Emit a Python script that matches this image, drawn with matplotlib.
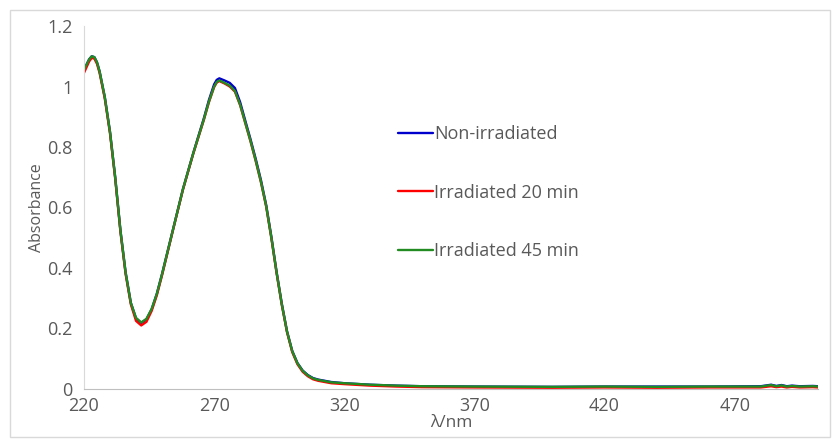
import numpy as np
import matplotlib.pyplot as plt
from matplotlib.patches import Rectangle

plt.rcParams['font.family'] = ['Open Sans', 'DejaVu Sans']

# wavelengths (nm) and absorbance
wl = [220, 222, 223, 224, 225, 226, 228, 230, 232, 234, 236, 238, 240, 242, 244, 246,
      248, 250, 252, 254, 256, 258, 260, 262, 264, 266, 268, 270, 271, 272, 274,
      276, 278, 280, 282, 284, 286, 288, 290, 292, 294, 296, 298, 300, 302, 304,
      306, 308, 310, 315, 320, 330, 340, 350, 370, 400, 420, 440, 460, 480, 484,
      486, 488, 490, 492, 495, 500, 502]

irr45 = [1.055, 1.09, 1.10, 1.097, 1.08, 1.05, 0.965, 0.85, 0.70, 0.525, 0.385, 0.285, 0.235,
         0.22, 0.232, 0.265, 0.315, 0.38, 0.45, 0.52, 0.59, 0.66, 0.72, 0.78, 0.835,
         0.89, 0.95, 1.0, 1.015, 1.02, 1.012, 1.003, 0.985, 0.94, 0.88, 0.82, 0.755,
         0.685, 0.605, 0.50, 0.385, 0.28, 0.19, 0.125, 0.085, 0.06, 0.045, 0.035, 0.03,
         0.022, 0.019, 0.014, 0.011, 0.009, 0.008, 0.007, 0.008, 0.007, 0.008, 0.008,
         0.013, 0.009, 0.012, 0.008, 0.010, 0.008, 0.009, 0.008]

non_irr = [1.055, 1.09, 1.10, 1.097, 1.08, 1.05, 0.965, 0.85, 0.70, 0.525, 0.385, 0.285, 0.233,
           0.218, 0.23, 0.263, 0.315, 0.38, 0.45, 0.52, 0.59, 0.66, 0.72, 0.78, 0.837,
           0.893, 0.955, 1.007, 1.022, 1.027, 1.02, 1.012, 0.995, 0.948, 0.886, 0.825,
           0.76, 0.69, 0.608, 0.503, 0.387, 0.282, 0.191, 0.126, 0.086, 0.061, 0.046,
           0.036, 0.031, 0.023, 0.019, 0.014, 0.011, 0.009, 0.008, 0.007, 0.008, 0.008,
           0.008, 0.009, 0.014, 0.010, 0.013, 0.009, 0.011, 0.009, 0.010, 0.009]

irr20 = [1.045, 1.083, 1.095, 1.092, 1.075, 1.045, 0.96, 0.845, 0.695, 0.52, 0.38, 0.28, 0.225,
         0.21, 0.222, 0.258, 0.31, 0.376, 0.447, 0.518, 0.588, 0.658, 0.718, 0.778, 0.833,
         0.888, 0.948, 0.998, 1.013, 1.018, 1.01, 1.0, 0.983, 0.938, 0.878, 0.818, 0.753,
         0.683, 0.603, 0.498, 0.383, 0.278, 0.188, 0.122, 0.082, 0.057, 0.042, 0.032,
         0.027, 0.019, 0.016, 0.011, 0.008, 0.006, 0.005, 0.004, 0.005, 0.004, 0.005,
         0.005, 0.009, 0.006, 0.008, 0.005, 0.007, 0.005, 0.006, 0.005]

fig = plt.figure(figsize=(8.33, 4.41), dpi=100)
ax = fig.add_axes([0.1008, 0.118, 0.8812, 0.823])

# outer chart border
fig.patches.append(Rectangle((10 / 833, 4 / 441), 820 / 833, 427 / 441, transform=fig.transFigure,
                             fill=False, edgecolor='#d9d9d9', linewidth=1))

kw = dict(linewidth=1.7, solid_joinstyle='round', solid_capstyle='round')
ax.plot(wl, non_irr, color='#0000cc', label='Non-irradiated', **kw)
ax.plot(wl, irr20, color='#ff0000', label='Irradiated 20 min', **kw)
ax.plot(wl, irr45, color='#228b22', label='Irradiated 45 min', **kw)

ax.set_xlim(220, 502)
ax.set_ylim(0, 1.2)
ax.set_xticks([220, 270, 320, 370, 420, 470])
ax.set_yticks([0, 0.2, 0.4, 0.6, 0.8, 1.0, 1.2])
ax.set_yticklabels(['0', '0.2', '0.4', '0.6', '0.8', '1', '1.2'])
ax.tick_params(length=0, labelsize=13, labelcolor='#595959')
ax.tick_params(axis='x', pad=6)
ax.tick_params(axis='y', pad=8)

for s in ['top', 'right']:
    ax.spines[s].set_visible(False)
ax.spines['left'].set_color('#d9d9d9')
ax.spines['bottom'].set_color('#bfbfbf')

ax.set_xlabel('λ/nm', fontsize=12.5, color='#595959', labelpad=0)
ax.set_ylabel('Absorbance', fontsize=11.5, color='#595959', labelpad=2)

ax.legend(loc='upper left', bbox_to_anchor=(0.406, 0.772), frameon=False, fontsize=13,
          labelspacing=2.25, handlelength=1.9, handletextpad=0.1, labelcolor='#595959')

fig.savefig('out.png', dpi=100)
